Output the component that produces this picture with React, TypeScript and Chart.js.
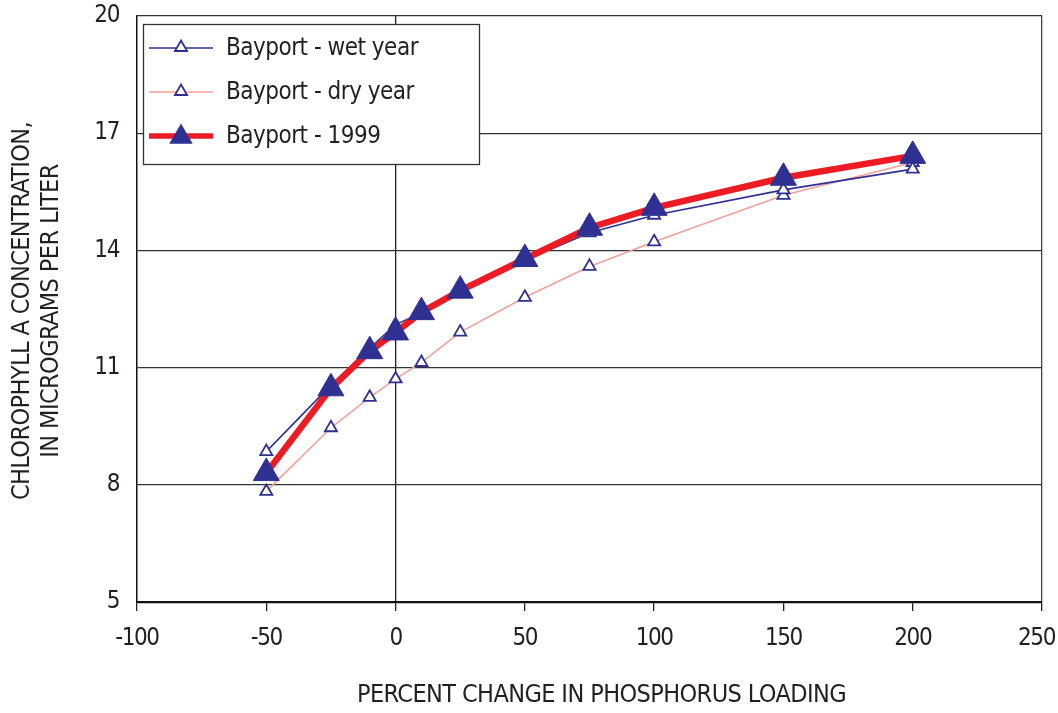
import React, { useEffect, useRef } from "react";
import { Chart, registerables } from "chart.js";

Chart.register(...registerables);

// Percent change in phosphorus loading (x) and chlorophyll a response (y)
const loadChange = [-50, -25, -10, 0, 10, 25, 50, 75, 100, 150, 200];
const wetYear = [8.85, 10.55, 11.5, 12.1, 12.4, 13.0, 13.75, 14.45, 14.9, 15.55, 16.08];
const dryYear = [7.83, 9.46, 10.24, 10.71, 11.13, 11.91, 12.8, 13.59, 14.22, 15.41, 16.25];
const year1999 = [8.3, 10.47, 11.42, 11.9, 12.42, 12.97, 13.78, 14.58, 15.09, 15.86, 16.42];

const seriesNames = ["Bayport - wet year", "Bayport - dry year", "Bayport - 1999"];
const xTickValues = [-100, -50, 0, 50, 100, 150, 200, 250];
const yTickValues = [5, 8, 11, 14, 17, 20];
const xTitle = "PERCENT CHANGE IN PHOSPHORUS LOADING";
const yTitleLines = ["CHLOROPHYLL A CONCENTRATION,", "IN MICROGRAMS PER LITER"];

const FONT = "'DejaVu Sans Condensed', 'Liberation Sans', Arial, sans-serif";
const INK = "#231f20";
const BLUE = "#2e3192";
const PINK = "#f4a19c";
const RED = "#ed1c24";

const toPoints = (ys: number[]) => loadChange.map((x, i) => ({ x, y: ys[i] }));

function triangle(ctx: CanvasRenderingContext2D, x: number, y: number, r: number) {
  ctx.beginPath();
  for (let k = 0; k < 3; k++) {
    const a = (k * 2 * Math.PI) / 3;
    const px = x + Math.sin(a) * r;
    const py = y - Math.cos(a) * r;
    if (k === 0) ctx.moveTo(px, py);
    else ctx.lineTo(px, py);
  }
  ctx.closePath();
}

// Tighter letter spacing for the y tick labels, to keep the narrow look
const tightTextPlugin = {
  id: "tightText",
  beforeDraw(chart: any) {
    (chart.ctx as any).letterSpacing = "-1.4px";
  },
  afterDraw(chart: any) {
    (chart.ctx as any).letterSpacing = "0px";
  },
};

// X tick labels, placed under each tick of the x scale and kept inside the canvas
const xLabelsPlugin = {
  id: "xLabels",
  afterDraw(chart: any) {
    const ctx: CanvasRenderingContext2D = chart.ctx;
    const scale = chart.scales.x;
    ctx.save();
    (ctx as any).letterSpacing = "-1.4px";
    ctx.fillStyle = INK;
    ctx.font = `24px ${FONT}`;
    ctx.textAlign = "center";
    ctx.textBaseline = "middle";
    scale.ticks.forEach((t: any, i: number) => {
      const label = String(t.value);
      const w = ctx.measureText(label).width;
      let x = scale.getPixelForTick(i);
      x = Math.min(x, chart.width - 3 - w / 2);
      ctx.fillText(label, x, scale.top + 37);
    });
    ctx.restore();
  },
};

// Axis titles drawn beside the plot area
const axisTitlesPlugin = {
  id: "axisTitles",
  afterDraw(chart: any) {
    const ctx: CanvasRenderingContext2D = chart.ctx;
    const { left, right, top, bottom } = chart.chartArea;
    ctx.save();
    (ctx as any).letterSpacing = "-0.6px";
    ctx.fillStyle = INK;
    ctx.font = `25px ${FONT}`;
    ctx.textAlign = "center";
    ctx.textBaseline = "middle";
    ctx.fillText(xTitle, (left + right) / 2 + 12, 695);
    ctx.translate(0, (top + bottom) / 2 + 2);
    ctx.rotate(-Math.PI / 2);
    ctx.fillText(yTitleLines[0], 0, 22);
    ctx.fillText(yTitleLines[1], 0, 51);
    ctx.restore();
  },
};

// Boxed legend in the upper-left corner of the plot area
const boxLegendPlugin = {
  id: "boxLegend",
  afterDraw(chart: any) {
    const ctx: CanvasRenderingContext2D = chart.ctx;
    const { left, top } = chart.chartArea;
    const bx = left + 6;
    const by = top + 8;
    const bw = 336;
    const bh = 140;
    ctx.save();
    (ctx as any).letterSpacing = "-0.5px";
    ctx.fillStyle = "#ffffff";
    ctx.fillRect(bx, by, bw, bh);
    ctx.strokeStyle = "#333333";
    ctx.lineWidth = 1.3;
    ctx.strokeRect(bx + 0.5, by + 0.5, bw, bh);
    const lineWidths = [1.6, 1.6, 5.5];
    chart.data.datasets.forEach((ds: any, i: number) => {
      const cy = by + 24 + i * 44;
      ctx.strokeStyle = ds.borderColor;
      ctx.lineWidth = lineWidths[i];
      ctx.beginPath();
      ctx.moveTo(bx + 6, cy);
      ctx.lineTo(bx + 70, cy);
      ctx.stroke();
      const mx = bx + 38;
      if (i < 2) {
        triangle(ctx, mx, cy - 0.5, 7);
        ctx.fillStyle = "#ffffff";
        ctx.fill();
        ctx.strokeStyle = BLUE;
        ctx.lineWidth = 1.8;
        ctx.stroke();
      } else {
        triangle(ctx, mx, cy + 1, 13.5);
        ctx.fillStyle = BLUE;
        ctx.fill();
      }
      ctx.fillStyle = INK;
      ctx.font = `24px ${FONT}`;
      ctx.textAlign = "left";
      ctx.textBaseline = "middle";
      ctx.fillText(ds.label, bx + 83, cy + 1);
    });
    ctx.restore();
  },
};

export default function App() {
  const canvasRef = useRef<HTMLCanvasElement>(null);

  useEffect(() => {
    const canvas = canvasRef.current;
    if (!canvas) return;
    const chart = new Chart(canvas, {
      type: "scatter",
      data: {
        datasets: [
          {
            label: seriesNames[0],
            data: toPoints(wetYear),
            showLine: true,
            borderColor: BLUE,
            borderWidth: 1.6,
            pointStyle: "triangle",
            pointRadius: 7,
            pointBorderWidth: 1.8,
            pointBackgroundColor: "#ffffff",
            pointBorderColor: BLUE,
            tension: 0,
            order: 1,
          },
          {
            label: seriesNames[1],
            data: toPoints(dryYear),
            showLine: true,
            borderColor: PINK,
            borderWidth: 1.6,
            pointStyle: "triangle",
            pointRadius: 7,
            pointBorderWidth: 1.8,
            pointBackgroundColor: "#ffffff",
            pointBorderColor: BLUE,
            tension: 0,
            order: 2,
          },
          {
            label: seriesNames[2],
            data: toPoints(year1999),
            showLine: true,
            borderColor: RED,
            borderWidth: 6.5,
            pointStyle: "triangle",
            pointRadius: 15,
            pointBorderWidth: 1,
            pointBackgroundColor: BLUE,
            pointBorderColor: BLUE,
            tension: 0,
            order: 0,
          },
        ],
      },
      options: {
        responsive: false,
        devicePixelRatio: 1,
        animation: false,
        layout: { padding: { top: 13, right: 16, left: 0, bottom: 0 } },
        plugins: {
          legend: { display: false },
          tooltip: { enabled: false },
        },
        scales: {
          x: {
            type: "linear",
            min: -100,
            max: 250,
            afterFit(scale: any) {
              scale.height = 111;
              scale.paddingLeft = 0;
              scale.paddingRight = 0;
            },
            afterBuildTicks(scale: any) {
              scale.ticks = xTickValues.map((v) => ({ value: v }));
            },
            ticks: { display: false },
            grid: {
              drawOnChartArea: true,
              color: (c: any) =>
                c.tick && c.tick.value === 0 ? "#222222" : c.tick && c.tick.value === 250 ? "#444444" : "rgba(0,0,0,0)",
              lineWidth: 1.3,
              tickColor: "#222222",
              tickLength: 9,
            },
            border: { color: "#111111", width: 2.2 },
          },
          y: {
            type: "linear",
            min: 5,
            max: 20,
            afterFit(scale: any) {
              scale.width = 137;
              scale.paddingTop = 0;
              scale.paddingBottom = 0;
            },
            afterBuildTicks(scale: any) {
              scale.ticks = yTickValues.map((v) => ({ value: v }));
            },
            ticks: {
              color: INK,
              font: { family: FONT, size: 24 },
              padding: 18,
            },
            grid: {
              color: "#333333",
              lineWidth: 1.3,
              drawTicks: false,
            },
            border: { color: "#111111", width: 1.5 },
          },
        },
      },
      plugins: [tightTextPlugin, xLabelsPlugin, axisTitlesPlugin, boxLegendPlugin],
    });
    return () => chart.destroy();
  }, []);

  return (
    <div style={{ position: "fixed", left: 0, top: 0, width: 1058, height: 713, background: "#ffffff" }}>
      <canvas ref={canvasRef} width={1058} height={713} style={{ width: 1058, height: 713, display: "block" }} />
    </div>
  );
}
